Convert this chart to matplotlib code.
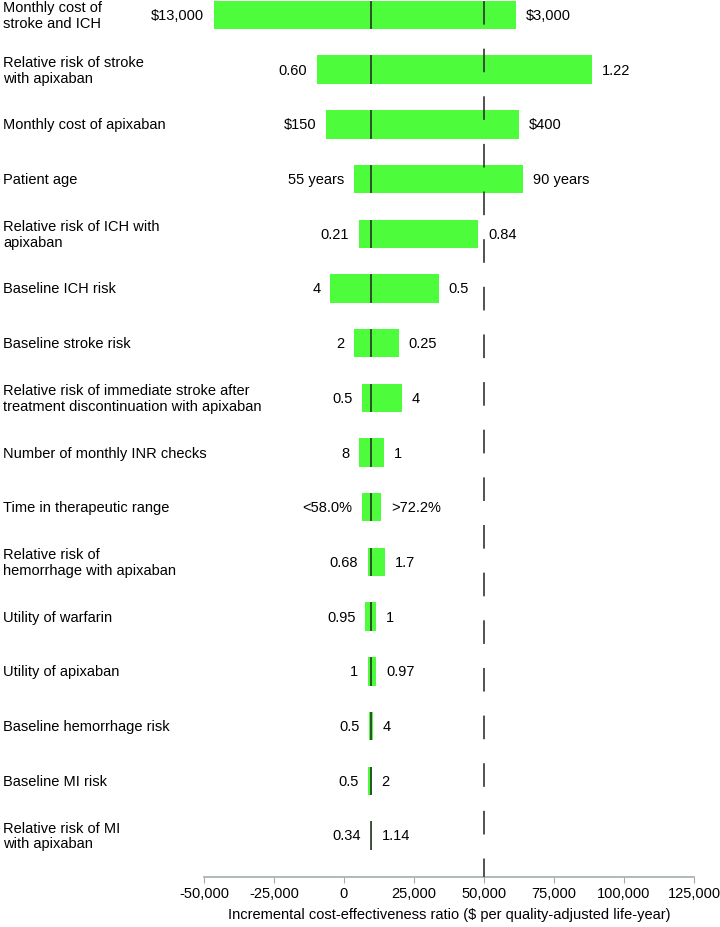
import matplotlib
matplotlib.use('Agg')
import matplotlib.pyplot as plt
import matplotlib.transforms as mtransforms

plt.rcParams['font.family'] = ['Liberation Sans', 'DejaVu Sans']
plt.rcParams['lines.scale_dashes'] = False

# Parameters of the one-way sensitivity analysis (top to bottom)
params = [
    'Monthly cost of\nstroke and ICH',
    'Relative risk of stroke\nwith apixaban',
    'Monthly cost of apixaban',
    'Patient age',
    'Relative risk of ICH with\napixaban',
    'Baseline ICH risk',
    'Baseline stroke risk',
    'Relative risk of immediate stroke after\ntreatment discontinuation with apixaban',
    'Number of monthly INR checks',
    'Time in therapeutic range',
    'Relative risk of\nhemorrhage with apixaban',
    'Utility of warfarin',
    'Utility of apixaban',
    'Baseline hemorrhage risk',
    'Baseline MI risk',
    'Relative risk of MI\nwith apixaban',
]

# ICER at each end of the bar ($/QALY)
left_end = [-46500, -9650, -6450, 3600, 5250, -5000, 3600, 6550,
            5350, 6550, 8600, 7600, 8600, 8950, 8600, 9650]
right_end = [61600, 88700, 62600, 64100, 48000, 33850, 19550, 20850,
             14200, 13250, 14750, 11550, 11550, 10500, 10000, 9900]

left_labels = ['$13,000', '0.60', '$150', '55 years', '0.21', '4', '2', '0.5',
               '8', '<58.0%', '0.68', '0.95', '1', '0.5', '0.5', '0.34']
right_labels = ['$3,000', '1.22', '$400', '90 years', '0.84', '0.5', '0.25', '4',
                '1', '>72.2%', '1.7', '1', '0.97', '4', '2', '1.14']

base_icer = 9700
wtp = 50000
xticks = [-50000, -25000, 0, 25000, 50000, 75000, 100000, 125000]

fig = plt.figure(figsize=(7.2, 9.28), dpi=100)
ax = fig.add_axes([204 / 720, 1 - 878 / 928, (694 - 204) / 720, 876 / 928])

green = '#4dfd3c'
bar_h = 0.52
ypos = list(range(len(params)))
widths = [r - l for l, r in zip(left_end, right_end)]
ax.barh(ypos, widths, left=left_end, height=bar_h, color=green, edgecolor='none', zorder=2)

# base case line through each bar
ax.vlines([base_icer] * len(ypos), [y - bar_h / 2 for y in ypos], [y + bar_h / 2 for y in ypos],
          color='#222222', lw=1.1, zorder=3)

y_top, y_bot = -0.256, 15.76
ax.set_ylim(y_bot, y_top)
ax.set_xlim(-50000, 125000)

# willingness-to-pay threshold
ax.plot([wtp, wtp], [y_top, y_bot], color='#333333', lw=1.2, dashes=(17, 17.3),
        zorder=4, clip_on=False)

fs = 10.5
for y, l, r, tl, tr in zip(ypos, left_end, right_end, left_labels, right_labels):
    ax.annotate(tl, (l, y), xytext=(-7, 0), textcoords='offset points',
                ha='right', va='center', fontsize=fs)
    ax.annotate(tr, (r, y), xytext=(7, 0), textcoords='offset points',
                ha='left', va='center', fontsize=fs)

trans = mtransforms.blended_transform_factory(fig.transFigure, ax.transData)
for y, p in zip(ypos, params):
    ax.text(3 / 720, y, p, transform=trans, ha='left', va='center', fontsize=fs,
            linespacing=1.15)

ax.set_xticks(xticks)
ax.set_xticklabels([f'{t:,}' for t in xticks], fontsize=fs)
ax.set_yticks([])
for s in ['top', 'right', 'left']:
    ax.spines[s].set_visible(False)
ax.spines['bottom'].set_color('#a3adad')
ax.spines['bottom'].set_linewidth(1.2)
ax.tick_params(axis='x', direction='out', length=4, color='#a3adad', pad=2.8)
ax.set_xlabel('Incremental cost-effectiveness ratio ($ per quality-adjusted life-year)',
              fontsize=fs, labelpad=5)

fig.savefig('out.png', dpi=100, facecolor='white')
